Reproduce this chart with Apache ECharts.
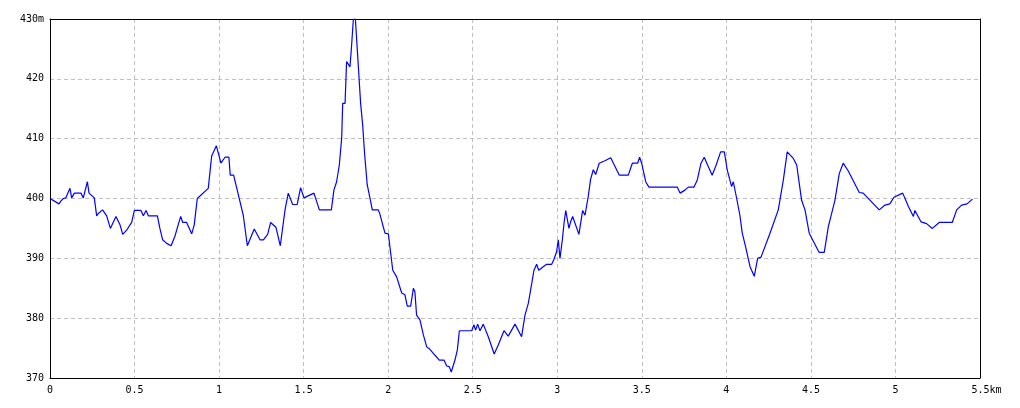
<!DOCTYPE html>
<html>
<head>
<meta charset="utf-8">
<script src="https://cdn.jsdelivr.net/npm/echarts@6/dist/echarts.min.js"></script>
<style>
html,body{margin:0;padding:0;background:#fff;}
#chart{width:1020px;height:408px;}
</style>
</head>
<body>
<div id="chart"></div>
<script>
// distance along the route (km)
const distanceKm = [
0.000,0.053,0.065,0.079,0.093,0.118,0.128,0.144,0.183,0.197,0.221,0.231,0.262,0.276,0.286,0.311,0.335,0.357,0.390,0.414,
0.430,0.453,0.483,0.499,0.538,0.552,0.568,0.582,0.635,0.650,0.666,0.690,0.716,0.739,0.755,0.773,0.785,0.808,0.838,0.853,
0.871,0.936,0.956,0.984,1.011,1.035,1.058,1.066,1.086,1.114,1.143,1.167,1.208,1.242,1.262,1.287,1.305,1.336,1.362,1.374,
1.390,1.409,1.435,1.462,1.482,1.502,1.561,1.593,1.664,1.679,1.695,1.711,1.725,1.731,1.745,1.754,1.774,1.784,1.794,1.806,
1.823,1.837,1.849,1.861,1.876,1.892,1.906,1.941,1.951,1.981,2.001,2.027,2.050,2.080,2.099,2.113,2.133,2.149,2.158,2.168,
2.188,2.208,2.228,2.247,2.277,2.302,2.330,2.346,2.361,2.373,2.395,2.409,2.421,2.494,2.507,2.517,2.529,2.543,2.562,2.592,
2.627,2.651,2.685,2.710,2.750,2.789,2.809,2.829,2.849,2.862,2.878,2.890,2.917,2.937,2.967,2.980,2.996,3.006,3.016,3.030,
3.040,3.050,3.059,3.069,3.079,3.091,3.128,3.150,3.164,3.183,3.197,3.213,3.227,3.248,3.282,3.316,3.367,3.420,3.444,3.475,
3.487,3.499,3.509,3.523,3.542,3.710,3.726,3.755,3.775,3.808,3.828,3.850,3.869,3.889,3.916,3.937,3.966,3.988,4.005,4.031,
4.041,4.061,4.080,4.094,4.114,4.140,4.165,4.185,4.205,4.258,4.307,4.337,4.360,4.396,4.416,4.445,4.465,4.490,4.548,4.579,
4.603,4.642,4.668,4.691,4.721,4.786,4.809,4.904,4.938,4.967,4.991,5.043,5.076,5.106,5.115,5.151,5.184,5.218,5.259,5.336,
5.362,5.391,5.423,5.456
];
// elevation (m)
const elevationM = [
400.0,399.1,399.6,400.0,400.1,401.7,400.1,400.9,400.9,400.1,402.8,400.9,400.1,397.1,397.5,398.1,397.1,395.0,397.0,395.6,
394.0,394.7,396.0,398.0,398.0,397.1,398.0,397.1,397.1,395.0,393.1,392.5,392.1,393.7,395.3,397.0,396.0,396.0,394.1,395.6,
400.0,401.7,407.1,408.8,405.9,406.9,406.9,403.9,403.9,400.6,397.2,392.1,394.9,393.1,393.1,394.0,396.0,395.2,392.1,394.7,
398.1,400.9,399.0,399.0,401.8,400.1,400.9,398.1,398.1,401.4,402.8,405.6,410.1,415.9,415.9,422.9,422.0,425.7,430.0,430.0,
422.3,415.9,412.3,407.3,402.3,400.1,398.1,398.1,397.4,394.2,394.1,388.0,386.9,384.2,383.9,382.0,382.0,385.0,384.4,380.5,
379.7,377.2,375.2,374.8,373.8,373.0,373.0,372.0,371.9,371.0,373.0,374.7,377.9,377.9,378.9,378.0,379.0,377.9,379.0,376.9,
374.0,375.5,377.9,377.0,379.0,376.9,380.5,382.5,385.8,388.0,389.0,388.0,388.6,389.0,389.0,389.8,391.1,393.1,390.0,393.1,
395.9,398.0,398.0,395.0,396.1,397.0,394.0,398.0,397.2,400.3,403.2,404.8,404.0,405.9,406.3,406.8,403.9,403.9,405.9,405.9,
406.9,405.9,405.9,402.8,401.9,401.9,400.9,401.4,401.9,401.9,403.1,405.9,406.9,405.6,403.9,405.4,407.8,407.8,404.8,402.0,
402.8,400.0,397.2,394.2,391.9,388.6,387.0,390.0,390.2,394.2,398.1,403.1,407.8,406.7,405.6,399.7,398.1,394.2,391.0,391.0,
395.3,399.7,404.2,405.9,404.6,401.0,400.9,398.1,398.9,399.1,400.2,400.9,398.7,397.0,398.0,396.1,395.8,395.0,396.0,396.0,
398.1,398.9,399.1,399.9
];
const xMin = 0, xMax = 5.5, xStep = 0.5, xUnit = 'km';
const yMin = 370, yMax = 430, yStep = 10, yUnit = 'm';

const points = distanceKm.map((d, i) => [d, elevationM[i]]);
const font = '"DejaVu Sans Mono", monospace';

const chart = echarts.init(document.getElementById('chart'), null, {renderer: 'canvas'});
chart.setOption({
  animation: false,
  backgroundColor: '#ffffff',
  grid: {left: 50, right: 40, top: 19, bottom: 30, show: false},
  xAxis: [{
    type: 'value', min: xMin, max: xMax, interval: xStep,
    axisLine: {show: true, onZero: false, lineStyle: {color: '#000000', width: 1}},
    axisTick: {show: false},
    splitLine: {show: true, showMinLine: false, showMaxLine: false, lineStyle: {color: '#c0c0c0', width: 1, type: [4, 3]}},
    axisLabel: {
      color: '#000000', fontFamily: font, fontSize: 10, margin: 7,
      showMaxLabel: true, showMinLabel: true,
      formatter: v => Math.abs(v - xMax) < 1e-9 ? '{p|}{t|' + v + xUnit + '}' : '{t|' + v + '}',
      rich: {p: {width: 13}, t: {color: '#000000', fontFamily: font, fontSize: 10}}
    }
  }, {
    type: 'value', position: 'top', min: xMin, max: xMax,
    axisLine: {show: true, onZero: false, lineStyle: {color: '#000000', width: 1}},
    axisTick: {show: false}, axisLabel: {show: false}, splitLine: {show: false}
  }],
  yAxis: [{
    type: 'value', min: yMin, max: yMax, interval: yStep,
    axisLine: {show: true, onZero: false, lineStyle: {color: '#000000', width: 1}},
    axisTick: {show: false},
    splitLine: {show: true, showMinLine: false, showMaxLine: false, lineStyle: {color: '#c0c0c0', width: 1, type: [4, 3]}},
    axisLabel: {
      color: '#000000', fontFamily: font, fontSize: 10, margin: 6,
      showMaxLabel: true,
      formatter: v => v === yMax ? v + yUnit : String(v)
    }
  }, {
    type: 'value', position: 'right', min: yMin, max: yMax,
    axisLine: {show: true, onZero: false, lineStyle: {color: '#000000', width: 1}},
    axisTick: {show: false}, axisLabel: {show: false}, splitLine: {show: false}
  }],
  series: [{
    type: 'line', data: points, xAxisIndex: 0, yAxisIndex: 0, showSymbol: false, symbol: 'none',
    lineStyle: {color: '#0000ff', width: 1.2}, smooth: false, clip: true, z: 1
  }]
});
</script>
</body>
</html>
